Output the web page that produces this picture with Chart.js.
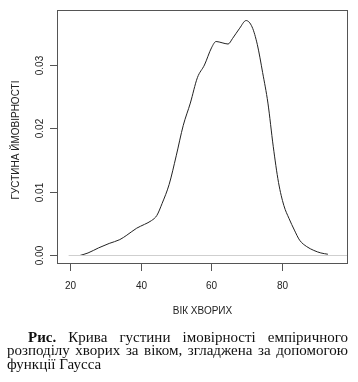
<!DOCTYPE html>
<html>
<head>
<meta charset="utf-8">
<script src="https://cdn.jsdelivr.net/npm/chart.js@4"></script>
<style>
  html, body { margin: 0; padding: 0; background: #fff; }
  #wrap { position: relative; width: 358px; height: 382px; }
  #caption {
    position: absolute; left: 7px; top: 330.7px; width: 341px;
    font-family: "Liberation Serif", "Times New Roman", serif;
    font-size: 15px; line-height: 13.8px; color: #111;
  }
  #caption .j { text-align: justify; text-align-last: justify; white-space: nowrap; }
  #caption .j1 { padding-left: 21px; }
</style>
</head>
<body>
<div id="wrap">
  <canvas id="c" width="358" height="382"></canvas>
  <div id="caption">
    <div class="j j1"><b>Рис.</b> Крива густини імовірності емпіричного</div>
    <div class="j">розподілу хворих за віком, згладжена за допомогою</div>
    <div>функції Гаусса</div>
  </div>
</div>
<script>
// Data
const ages = [22.7, 25, 28, 31, 34, 36, 38.8, 41, 43, 44.5, 46, 48, 50, 52, 54, 56, 58, 60, 61.3, 63, 64.7, 66, 68, 69.8, 71.5, 73, 74.5, 76, 77.5, 79, 80.5, 82, 83.5, 85, 87, 89, 91, 93];
const density = [0, 0.0004, 0.0012, 0.0019, 0.0025, 0.0032, 0.0043, 0.0049, 0.0055, 0.0063, 0.0082, 0.0112, 0.0157, 0.0205, 0.0240, 0.0280, 0.0300, 0.0327, 0.0337, 0.0335, 0.0333, 0.0342, 0.0358, 0.0370, 0.0360, 0.0332, 0.0288, 0.0240, 0.0172, 0.0115, 0.0079, 0.0058, 0.0040, 0.0024, 0.0014, 0.0008, 0.0004, 0.0002];
const zeroLineX = [19.5, 98.7];
const xTicks = [20, 40, 60, 80];
const yTicks = [0.00, 0.01, 0.02, 0.03];
const yTickLabels = ["0.00", "0.01", "0.02", "0.03"];
const xTitle = "ВІК ХВОРИХ";
const yTitle = "ГУСТИНА ЙМОВІРНОСТІ";

const curve = ages.map((a, i) => ({ x: a, y: density[i] }));
const zeroLine = zeroLineX.map(a => ({ x: a, y: 0 }));

const axisFont = '10px "Liberation Sans", Arial, sans-serif';

const rAxes = {
  id: 'rAxes',
  afterDraw(chart) {
    const ctx = chart.ctx;
    const ca = chart.chartArea;
    const xs = chart.scales.x, ys = chart.scales.y;
    ctx.save();
    ctx.strokeStyle = '#555';
    ctx.lineWidth = 1;
    ctx.strokeRect(Math.round(ca.left) + 0.5, Math.round(ca.top) + 0.5,
                   Math.round(ca.right - ca.left) - 1, Math.round(ca.bottom - ca.top) - 1);
    ctx.fillStyle = '#222';
    ctx.font = axisFont;
    // x ticks
    ctx.textAlign = 'center';
    ctx.textBaseline = 'middle';
    xTicks.forEach(v => {
      const px = Math.round(xs.getPixelForValue(v)) + 0.5;
      ctx.beginPath();
      ctx.moveTo(px, ca.bottom);
      ctx.lineTo(px, ca.bottom + 7);
      ctx.stroke();
      ctx.fillText(String(v), px, ca.bottom + 22);
    });
    // y ticks
    yTicks.forEach((v, i) => {
      const py = Math.round(ys.getPixelForValue(v)) + 0.5;
      ctx.beginPath();
      ctx.moveTo(ca.left, py);
      ctx.lineTo(ca.left - 7, py);
      ctx.stroke();
      ctx.save();
      ctx.translate(ca.left - 17, py);
      ctx.rotate(-Math.PI / 2);
      ctx.fillText(yTickLabels[i], 0, 0);
      ctx.restore();
    });
    // titles
    ctx.fillText(xTitle, (ca.left + ca.right) / 2, 311);
    ctx.save();
    ctx.translate(16, (ca.top + ca.bottom) / 2 + 3);
    ctx.rotate(-Math.PI / 2);
    ctx.fillText(yTitle, 0, 0);
    ctx.restore();
    ctx.restore();
  }
};

new Chart(document.getElementById('c'), {
  type: 'line',
  data: {
    datasets: [
      { data: zeroLine, borderColor: '#cfcfcf', borderWidth: 1, pointRadius: 0, tension: 0 },
      { data: curve, borderColor: '#222', borderWidth: 1, pointRadius: 0, cubicInterpolationMode: 'monotone' }
    ]
  },
  options: {
    responsive: false,
    devicePixelRatio: 1,
    animation: false,
    layout: { padding: { left: 57, top: 10, right: 10, bottom: 118 } },
    plugins: { legend: { display: false }, tooltip: { enabled: false } },
    scales: {
      x: { type: 'linear', min: 16.2, max: 98.7, display: false },
      y: { type: 'linear', min: -0.00134, max: 0.03866, display: false }
    }
  },
  plugins: [rAxes]
});
</script>
</body>
</html>
